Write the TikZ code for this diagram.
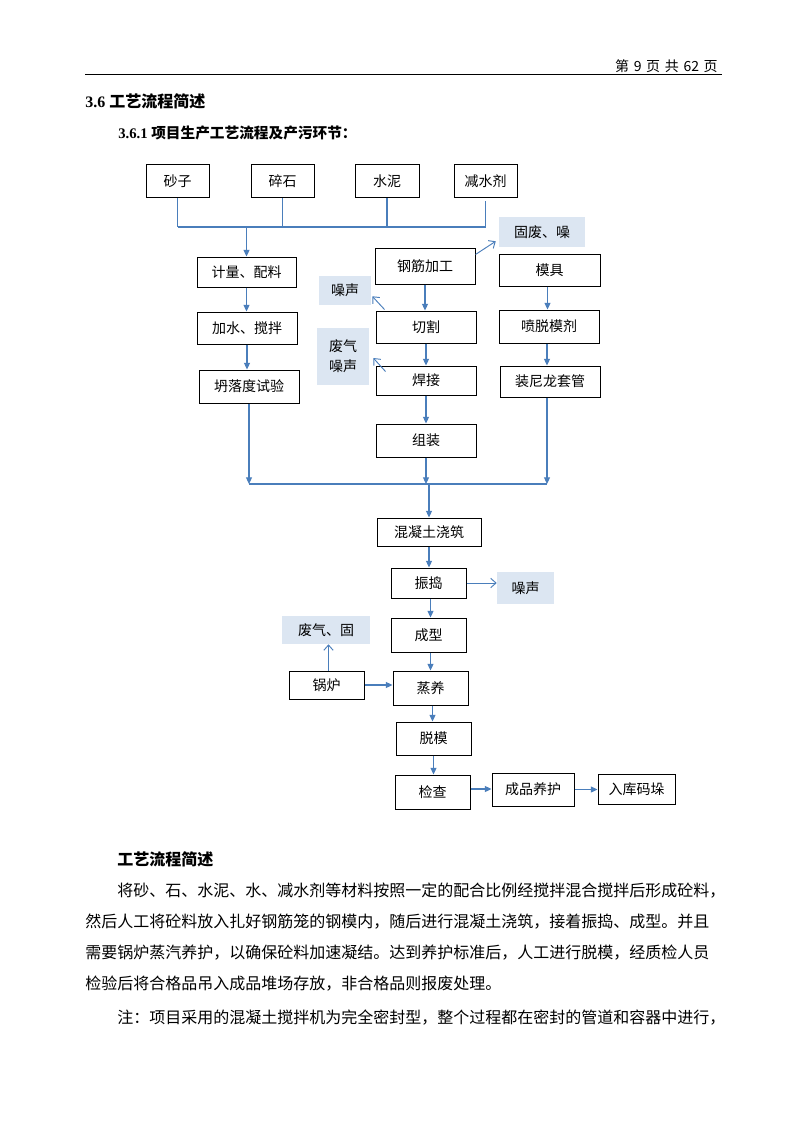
\documentclass[tikz,border=0pt]{standalone}
\usepackage{fontspec}
\setmainfont{Liberation Serif}
\newfontfamily\cjk{Noto Sans CJK SC}
\usetikzlibrary{arrows.meta,calc}
\definecolor{lineblue}{HTML}{4A7EBB}
\definecolor{emfill}{HTML}{DCE6F2}
\newcommand\bx[7][box]{\node[#1,minimum width={(#5-#3)*0.75pt},minimum height={(#6-#4)*0.75pt}] (#2) at ({(#3+#5)/2},{(#4+#6)/2}) {#7};}
\begin{document}
\begin{tikzpicture}[x=0.75pt,y=-0.75pt,
  box/.style={draw=black,line width=0.75pt,inner sep=0pt,font=\cjk\fontsize{10.5}{12}\selectfont,align=center},
  embox/.style={fill=emfill,inner sep=0pt,font=\cjk\fontsize{10.5}{15}\selectfont,align=left},
  arr/.style={draw=lineblue,line width=0.8pt,-{Triangle[length=5pt,width=4.5pt]}},
  oarr/.style={draw=lineblue,line width=0.7pt,-{Straight Barb[length=4pt,width=7pt]}},
  wire/.style={draw=lineblue,line width=0.8pt},
  body/.style={anchor=west,inner sep=0pt,font=\cjk\fontsize{12}{14}\selectfont}]
\useasboundingbox[fill=white] (0,0) rectangle (794,1123);

% header
\node[anchor=east,inner sep=0pt,font=\cjk\fontsize{10.5}{12}\selectfont] (hdr) at (718,66) {第\,\,9\,\,页\,\,共\,\,62\,\,页};
\draw[line width=0.75pt] (85,75) -- (722,75);
\node[anchor=west,inner sep=0pt,font=\fontsize{12}{14}\selectfont] (h1) at (85,101) {\textbf{3.6} {\cjk\bfseries 工艺流程简述}};
\node[anchor=west,inner sep=0pt,font=\fontsize{11}{14}\selectfont] (h2) at (118,133) {\textbf{3.6.1} {\cjk\bfseries 项目生产工艺流程及产污环节：}};

% raw materials
\bx{sz}{146}{165}{209}{198}{砂子}
\bx{ss}{251}{165}{314}{198}{碎石}
\bx{sn}{355}{165}{419}{198}{水泥}
\bx{jsj}{454}{165}{517}{198}{减水剂}
\coordinate (bus1) at (0,227);
\draw[wire] (sz.south) -- (sz.south |- bus1);
\draw[wire] (ss.south) -- (ss.south |- bus1);
\draw[wire] (sn.south) -- (sn.south |- bus1);
\draw[wire] ($(jsj.south)+(0,3)$) -- (jsj.south |- bus1);
\draw[wire] (sz.south |- bus1) -- (jsj.south |- bus1);

% left column
\bx{jl}{197}{257}{296}{287}{计量、配料}
\bx{js}{197}{312}{297}{344}{加水、搅拌}
\bx{tl}{199}{370}{299}{403}{坍落度试验}
\draw[arr] (jl.north |- bus1) -- (jl.north);
\draw[arr] (jl.south) -- (jl.south |- js.north);
\draw[arr] (js.south) -- (js.south |- tl.north);

% middle column
\bx{gj}{375}{248}{475}{284}{钢筋加工}
\bx{qg}{376}{311}{476}{343}{切割}
\bx{hj}{376}{366}{476}{395}{焊接}
\bx{zz}{376}{424}{476}{457}{组装}
\draw[arr] (gj.south) -- (gj.south |- qg.north);
\draw[arr] (qg.south) -- (qg.south |- hj.north);
\draw[arr] (hj.south) -- (hj.south |- zz.north);

% emissions
\bx[embox]{gf}{499}{217}{585}{247}{固废、噪}
\bx[embox]{ns1}{319}{276}{371}{305}{噪声}
\bx[embox]{fq}{317}{328}{369}{385}{废气\\噪声}
\draw[oarr] ($(gj.north east)+(0,7)$) -- ($(gf.south west)+(-3,-6)$);
\draw[oarr] ($(qg.north west)+(9,-1)$) -- ($(ns1.south east)+(1,-9)$);
\draw[oarr] ($(hj.north west)+(10,6)$) -- ($(fq.east)+(4,1.5)$);

% right column
\bx{mj}{499}{254}{600}{286}{模具}
\bx{pt}{499}{310}{599}{343}{喷脱模剂}
\bx{nl}{500}{366}{600}{397}{装尼龙套管}
\draw[arr] ($(mj.south)+(-2,0)$) -- ($(mj.south |- pt.north)+(-2,0)$);
\draw[arr] ($(pt.south)+(-2,0)$) -- ($(pt.south |- nl.north)+(-2,0)$);

% merge
\coordinate (bus2) at (0,484);
\draw[arr] (tl.south) -- (tl.south |- bus2);
\draw[arr] (zz.south) -- (zz.south |- bus2);
\draw[arr] ($(nl.south)+(-3,0)$) -- ($(nl.south |- bus2)+(-3,0)$);
\draw[wire] (tl.south |- bus2) -- ($(nl.south |- bus2)+(-3,0)$);

% main line
\bx{hnt}{377}{518}{481}{546}{混凝土浇筑}
\bx{zd}{391}{568}{466}{598}{振捣}
\bx[embox]{ns2}{497}{572}{554}{604}{噪声}
\bx{cx}{391}{618}{466}{652}{成型}
\bx[embox]{fg}{282}{616}{370}{644}{废气、固}
\bx{gl}{289}{671}{364}{699}{锅炉}
\bx{zy}{393}{671}{468}{705}{蒸养}
\bx{tm}{396}{722}{471}{755}{脱模}
\bx{jc}{395}{775}{470}{809}{检查}
\bx{cp}{492}{773}{574}{806}{成品养护}
\bx{rk}{598}{774}{675}{804}{入库码垛}
\draw[arr] (hnt.north |- bus2) -- (hnt.north);
\draw[arr] (hnt.south) -- (hnt.south |- zd.north);
\draw[arr] ($(zd.south)+(2,0)$) -- ($(zd.south |- cx.north)+(2,0)$);
\draw[arr] ($(cx.south)+(2,0)$) -- ($(cx.south |- zy.north)+(2,0)$);
\draw[arr] ($(zy.south)+(2,0)$) -- ($(zy.south |- tm.north)+(2,0)$);
\draw[arr] (tm.south) -- (tm.south |- jc.north);
\draw[oarr] (zd.east) -- (zd.east -| ns2.west);
\draw[oarr] ($(gl.north)+(2,0)$) -- ($(gl.north |- fg.south)+(2,0)$);
\draw[arr] (gl.east) -- (gl.east -| zy.west);
\draw[arr] ($(jc.east)+(0,-3)$) -- ($(jc.east -| cp.west)+(0,-3)$);
\draw[arr] (cp.east) -- (cp.east -| rk.west);

% text
\node[anchor=west,inner sep=0pt,font=\cjk\bfseries\fontsize{12}{14}\selectfont] (t0) at (117,859) {工艺流程简述};
\node[body] (t1) at (117,891) {将砂、石、水泥、水、减水剂等材料按照一定的配合比例经搅拌混合搅拌后形成砼料，};
\node[body] (t2) at (85,922) {然后人工将砼料放入扎好钢筋笼的钢模内，随后进行混凝土浇筑，接着振捣、成型。并且};
\node[body] (t3) at (85,953) {需要锅炉蒸汽养护，以确保砼料加速凝结。达到养护标准后，人工进行脱模，经质检人员};
\node[body] (t4) at (85,984) {检验后将合格品吊入成品堆场存放，非合格品则报废处理。};
\node[body] (t5) at (117,1018) {注：项目采用的混凝土搅拌机为完全密封型，整个过程都在密封的管道和容器中进行，};
\end{tikzpicture}
\end{document}
